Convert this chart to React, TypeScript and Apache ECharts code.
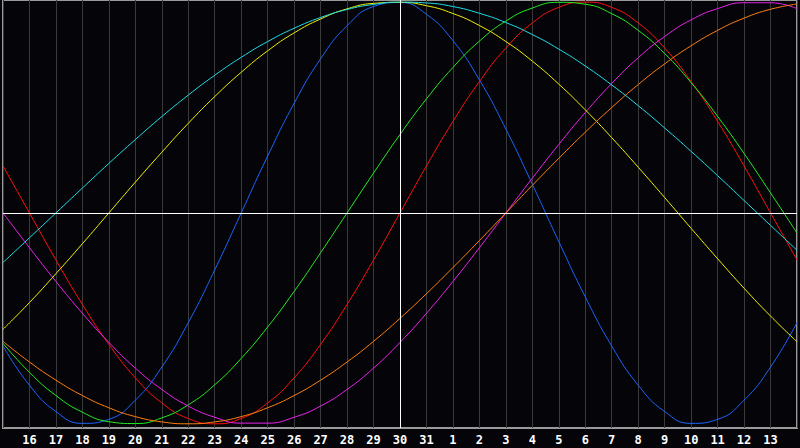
import React, { useEffect, useRef } from 'react';
import * as echarts from 'echarts';

// Days shown on the x axis (left edge = 15, right edge = 14 of next month)
const days = [
  '15', '16', '17', '18', '19', '20', '21', '22', '23', '24', '25', '26', '27', '28', '29', '30', '31',
  '1', '2', '3', '4', '5', '6', '7', '8', '9', '10', '11', '12', '13', '14',
];

const todayLabel = '30';

const physical = [-0.631, -0.817, -0.942, -0.998, -0.979, -0.888, -0.731, -0.520, -0.270, 0, 0.270, 0.520, 0.731, 0.888, 0.979, 0.998, 0.942, 0.817, 0.631, 0.398, 0.136, -0.136, -0.398, -0.631, -0.817, -0.942, -0.998, -0.979, -0.888, -0.731, -0.520];
const emotional = [0.223, 0, -0.223, -0.434, -0.623, -0.782, -0.901, -0.975, -1, -0.975, -0.901, -0.782, -0.623, -0.434, -0.223, 0, 0.223, 0.434, 0.623, 0.782, 0.901, 0.975, 1, 0.975, 0.901, 0.782, 0.623, 0.434, 0.223, 0, -0.223];
const intellectual = [-0.618, -0.756, -0.866, -0.945, -0.990, -0.999, -0.972, -0.910, -0.815, -0.690, -0.541, -0.372, -0.189, 0, 0.189, 0.372, 0.541, 0.690, 0.815, 0.910, 0.972, 0.999, 0.990, 0.945, 0.866, 0.756, 0.618, 0.458, 0.282, 0.095, -0.095];
const intuitive = [0, -0.165, -0.325, -0.476, -0.614, -0.736, -0.837, -0.916, -0.969, -0.997, -0.997, -0.969, -0.916, -0.837, -0.736, -0.614, -0.476, -0.325, -0.165, 0, 0.165, 0.325, 0.476, 0.614, 0.736, 0.837, 0.916, 0.969, 0.997, 0.997, 0.969];
const aesthetic = [-0.552, -0.425, -0.288, -0.146, 0, 0.146, 0.288, 0.425, 0.552, 0.667, 0.769, 0.854, 0.920, 0.968, 0.994, 0.999, 0.983, 0.946, 0.889, 0.813, 0.720, 0.611, 0.489, 0.357, 0.217, 0.073, -0.073, -0.217, -0.357, -0.489, -0.611];
const awareness = [-0.609, -0.707, -0.793, -0.866, -0.924, -0.966, -0.991, -1, -0.991, -0.966, -0.924, -0.866, -0.793, -0.707, -0.609, -0.5, -0.383, -0.259, -0.131, 0, 0.131, 0.259, 0.383, 0.5, 0.609, 0.707, 0.793, 0.866, 0.924, 0.966, 0.991];
const spiritual = [-0.235, -0.118, 0, 0.118, 0.235, 0.348, 0.457, 0.559, 0.653, 0.738, 0.813, 0.876, 0.927, 0.965, 0.989, 1.0, 0.996, 0.979, 0.947, 0.903, 0.846, 0.777, 0.697, 0.607, 0.509, 0.403, 0.292, 0.177, 0.059, -0.059, -0.177];

const seriesList = [
  { name: 'Physical', data: physical, color: '#1a66ff' },
  { name: 'Emotional', data: emotional, color: '#ff1010' },
  { name: 'Intellectual', data: intellectual, color: '#22ee22' },
  { name: 'Intuitive', data: intuitive, color: '#ee22ee' },
  { name: 'Aesthetic', data: aesthetic, color: '#f2f200' },
  { name: 'Awareness', data: awareness, color: '#ff8010' },
  { name: 'Spiritual', data: spiritual, color: '#1ee0e8' },
];

export default function App() {
  const ref = useRef<HTMLDivElement>(null);
  useEffect(() => {
    document.body.style.margin = '0';
    document.body.style.background = '#050408';
    const chart = echarts.init(ref.current as HTMLDivElement, null, { renderer: 'svg' });
    chart.setOption({
      animation: false,
      backgroundColor: '#050408',
      grid: {
        left: 0,
        right: 0,
        top: 0,
        bottom: 20,
        show: true,
        borderColor: '#9a9a9a',
        borderWidth: 2,
        backgroundColor: 'transparent',
      },
      xAxis: {
        type: 'category',
        data: days,
        boundaryGap: false,
        axisLine: { show: false },
        axisTick: { show: false },
        axisLabel: {
          interval: 0,
          color: '#ffffff',
          fontFamily: 'DejaVu Sans Mono',
          fontWeight: 'bold',
          fontSize: 12,
          margin: 6,
          formatter: (v: string, i: number) => (i === 0 || i === days.length - 1 ? '' : v),
        },
        splitLine: { show: true, interval: 0, lineStyle: { color: '#3a3a3a', width: 1 } },
      },
      yAxis: {
        type: 'value',
        min: -1.02,
        max: 1.01,
        show: false,
        splitLine: { show: false },
      },
      series: seriesList.map((s, idx) => ({
        name: s.name,
        type: 'line',
        data: s.data,
        smooth: true,
        symbol: 'none',
        silent: true,
        lineStyle: { color: s.color, width: 1 },
        itemStyle: { color: s.color },
        markLine: idx === 0 ? {
          silent: true,
          symbol: ['none', 'none'],
          label: { show: false },
          lineStyle: { color: '#ffffff', width: 1, type: 'solid' },
          data: [{ xAxis: todayLabel }, { yAxis: 0 }],
        } : undefined,
      })),
    });
    return () => chart.dispose();
  }, []);
  return <div ref={ref} style={{ position: 'fixed', left: 0, top: 0, width: 800, height: 448 }} />;
}
